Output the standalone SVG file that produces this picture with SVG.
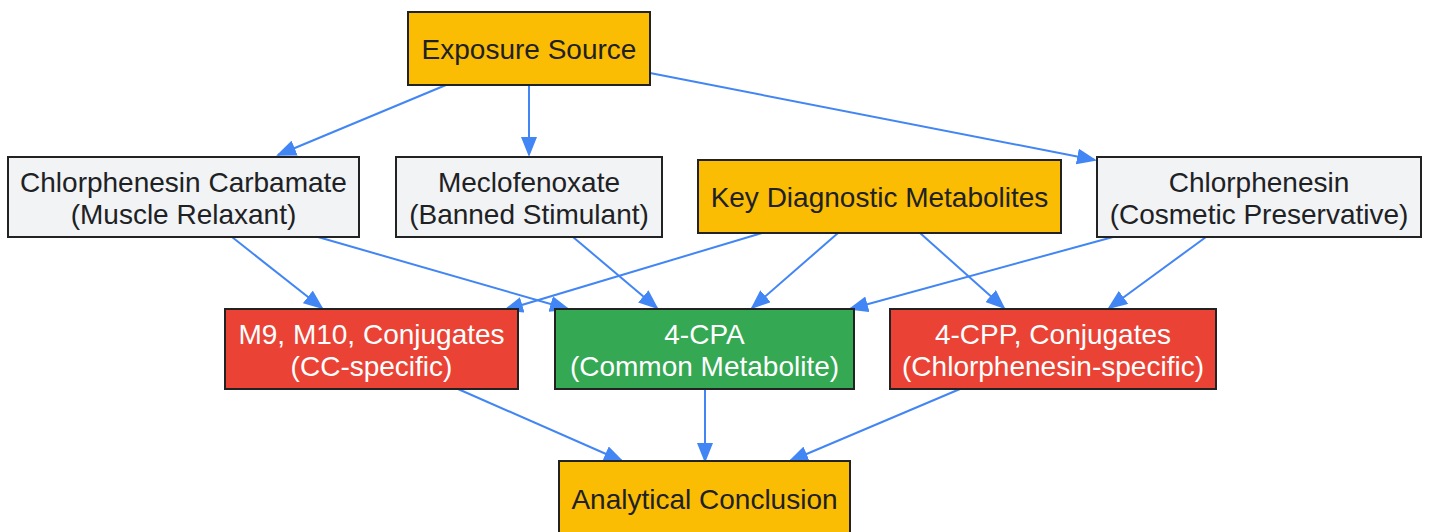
<svg xmlns="http://www.w3.org/2000/svg" width="1429" height="532" viewBox="0 0 1429 532">
<style>
rect{stroke:#222;stroke-width:2}
.y{fill:#FBBC04}.g{fill:#F1F3F4}.gr{fill:#34A853}.r{fill:#EA4335}
text{font-family:"Liberation Sans",Arial,sans-serif;font-size:28px;text-anchor:middle;fill:#202124}
.w{fill:#fff}
#edges line{stroke:#4285F4;stroke-width:2;fill:none;marker-end:url(#ah)}
</style>
<defs>
<marker id="ah" markerUnits="userSpaceOnUse" markerWidth="20" markerHeight="16" refX="18" refY="8" orient="auto">
<path d="M0,0 L20,8 L0,16 z" fill="#4285F4"/>
</marker>
</defs>
<rect width="1429" height="532" fill="#fff" style="stroke:none"/>
<g id="edges">
<line x1="446" y1="85" x2="278" y2="155"/>
<line x1="529" y1="85" x2="529" y2="155"/>
<line x1="650" y1="73" x2="1095" y2="160"/>
<line x1="232" y1="237" x2="322" y2="308"/>
<line x1="318" y1="237" x2="568" y2="309"/>
<line x1="573" y1="237" x2="657" y2="308"/>
<line x1="762" y1="233" x2="505" y2="310"/>
<line x1="838" y1="233" x2="752" y2="308"/>
<line x1="920" y1="233" x2="1004" y2="308"/>
<line x1="1113" y1="237" x2="850" y2="309"/>
<line x1="1206" y1="237" x2="1109" y2="308"/>
<line x1="458" y1="389" x2="622" y2="461"/>
<line x1="705" y1="389" x2="705" y2="461"/>
<line x1="960" y1="389" x2="790" y2="461"/>
</g>
<g id="exposure"><rect class="y" x="408" y="12" width="242" height="73"/><text x="529" y="59">Exposure Source</text></g>
<g id="cc"><rect class="g" x="8" y="157" width="351" height="80"/><text x="183.5" y="192">Chlorphenesin Carbamate</text><text x="183.5" y="224">(Muscle Relaxant)</text></g>
<g id="meclo"><rect class="g" x="396" y="157" width="266" height="80"/><text x="529" y="192">Meclofenoxate</text><text x="529" y="224">(Banned Stimulant)</text></g>
<g id="kdm"><rect class="y" x="698" y="160" width="363" height="73"/><text x="879.5" y="207">Key Diagnostic Metabolites</text></g>
<g id="chlorph"><rect class="g" x="1097" y="157" width="324" height="80"/><text x="1259" y="192">Chlorphenesin</text><text x="1259" y="224">(Cosmetic Preservative)</text></g>
<g id="m9"><rect class="r" x="225" y="309" width="293" height="80"/><text class="w" x="371.5" y="344">M9, M10, Conjugates</text><text class="w" x="371.5" y="376">(CC-specific)</text></g>
<g id="cpa"><rect class="gr" x="555" y="309" width="299" height="80"/><text class="w" x="704.5" y="344">4-CPA</text><text class="w" x="704.5" y="376">(Common Metabolite)</text></g>
<g id="cpp"><rect class="r" x="890" y="309" width="326" height="80"/><text class="w" x="1053" y="344">4-CPP, Conjugates</text><text class="w" x="1053" y="376">(Chlorphenesin-specific)</text></g>
<g id="conclusion"><rect class="y" x="559" y="461" width="291" height="80"/><text x="704.5" y="509">Analytical Conclusion</text></g>
</svg>
